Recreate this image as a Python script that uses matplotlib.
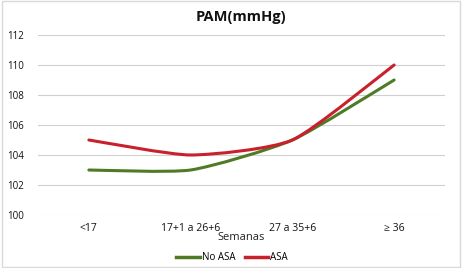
import matplotlib
matplotlib.use("Agg")
import matplotlib.pyplot as plt
from matplotlib.path import Path
from matplotlib.patches import PathPatch, Rectangle
from matplotlib.lines import Line2D
import numpy as np

categories = ["<17", "17+1 a 26+6", "27 a 35+6", "≥ 36"]
no_asa = [103, 103, 105, 109]
asa = [105, 104, 105, 110]
yticks = [100, 102, 104, 106, 108, 110, 112]

green = "#4F7B26"
red = "#C8202C"

plt.rcParams['font.family'] = ['Open Sans', 'DejaVu Sans']

fig = plt.figure(figsize=(4.62, 2.68), dpi=100)
ax = fig.add_axes([38/462, 1-215/268, 407/462, 180/268])

def smooth_path(xs, ys, t=0.1):
    pts = np.column_stack([xs, ys]).astype(float)
    n = len(pts)
    verts = [pts[0]]
    codes = [Path.MOVETO]
    for i in range(n-1):
        p0 = pts[i-1] if i > 0 else pts[i]
        p1 = pts[i]
        p2 = pts[i+1]
        p3 = pts[i+2] if i+2 < n else pts[i+1]
        c1 = p1 + (p2 - p0)*t
        c2 = p2 - (p3 - p1)*t
        verts += [c1, c2, p2]
        codes += [Path.CURVE4]*3
    return Path(verts, codes)

x = np.arange(len(categories))
for ys, c in [(no_asa, green), (asa, red)]:
    p = PathPatch(smooth_path(x, ys), fill=False, edgecolor=c, lw=2.2,
                  capstyle='round', joinstyle='round', zorder=3)
    ax.add_patch(p)

ax.set_xlim(-0.5, len(categories)-0.5)
ax.set_ylim(100, 112)
ax.set_yticks(yticks)
ax.set_yticklabels([str(v) for v in yticks], fontsize=7, color="#111111")
ax.set_xticks(x)
ax.set_xticklabels(categories, fontsize=7.5, color="#111111")
ax.tick_params(length=0, pad=6)
ax.tick_params(axis='y', pad=10)
ax.grid(axis='y', color="#D0D0D0", lw=0.8)
ax.set_axisbelow(True)
for s in ax.spines.values():
    s.set_visible(False)

fig.text(241/462, 1-17/268, "PAM(mmHg)", ha='center', va='center',
         fontsize=10.5, fontweight='bold', color="#111111")
fig.text(241/462, 1-238/268, "Semanas", ha='center', va='center',
         fontsize=8, color="#222222")

handles = [Line2D([], [], color=green, lw=2.5), Line2D([], [], color=red, lw=2.5)]
fig.legend(handles, ["No ASA", "ASA"], loc='center', bbox_to_anchor=(232/462, 1-258/268),
           ncol=2, frameon=False, fontsize=7, handlelength=2.4, handletextpad=0.2,
           columnspacing=1.0)

fig.patches.append(Rectangle((0.004, 0.004), 0.992, 0.992, transform=fig.transFigure,
                             fill=False, edgecolor="#D9D9D9", lw=1))

fig.savefig("out.png", dpi=100)
